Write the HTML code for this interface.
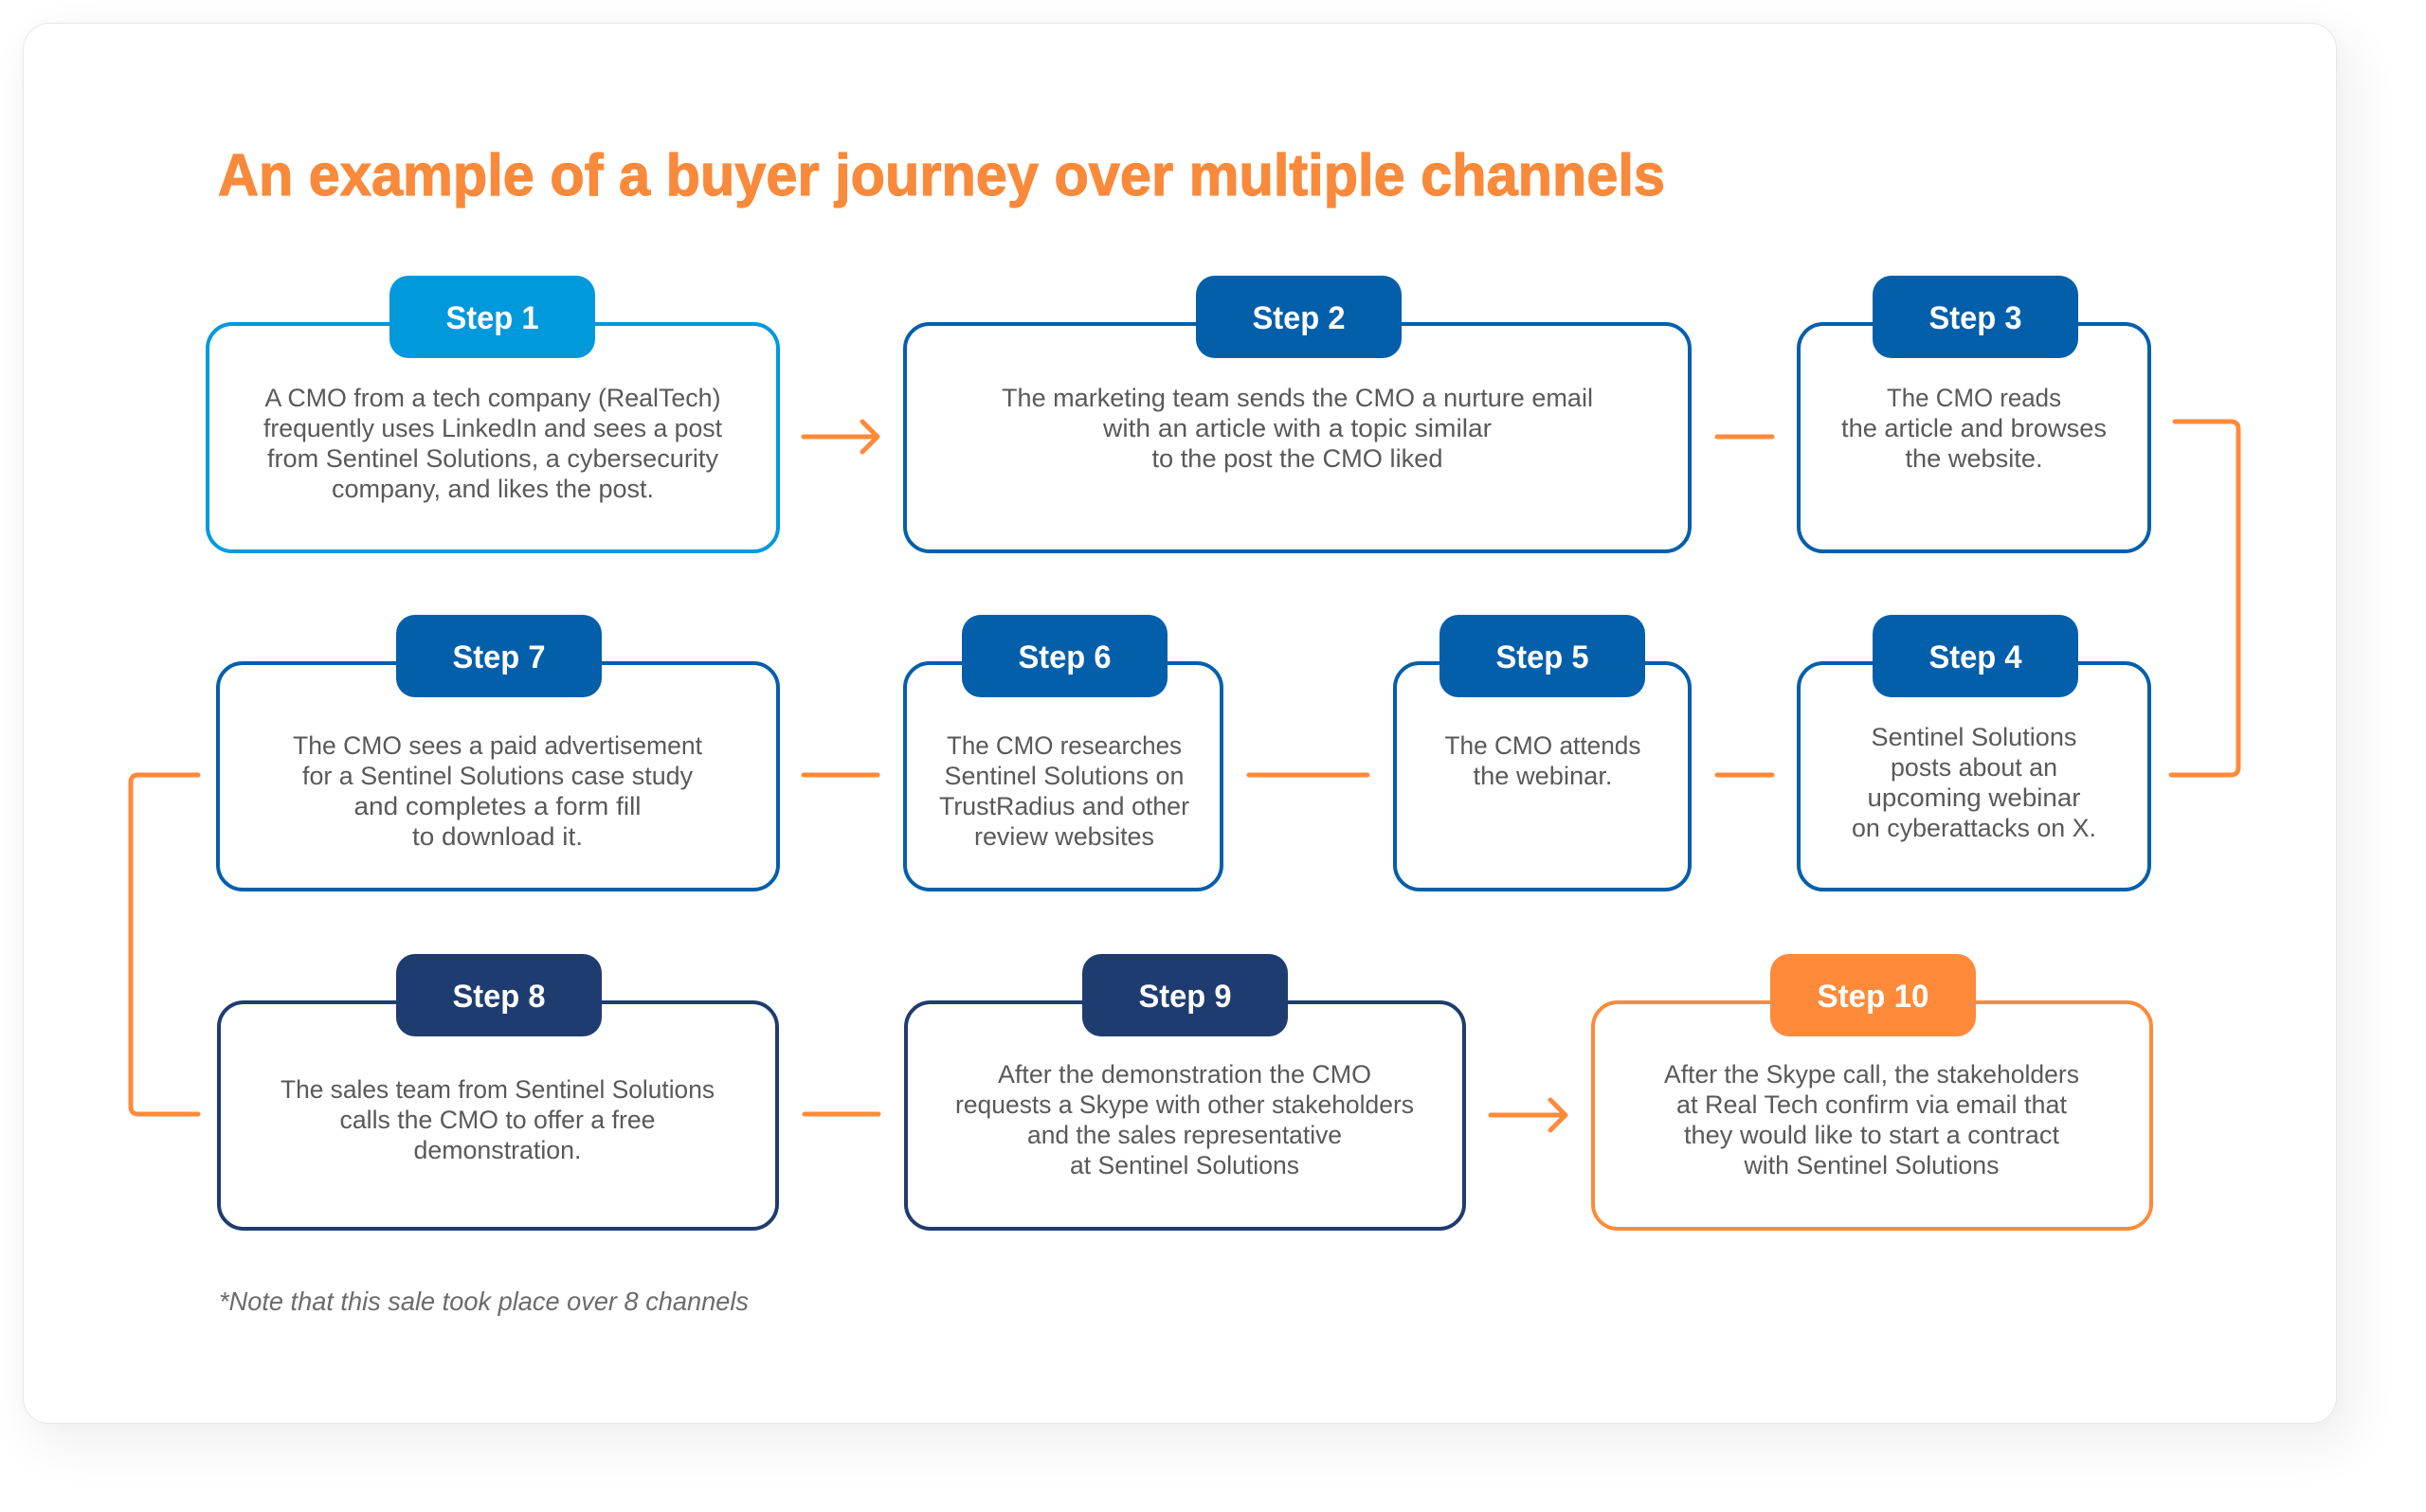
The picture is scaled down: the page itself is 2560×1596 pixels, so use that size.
<!DOCTYPE html>
<html>
<head>
<meta charset="utf-8">
<style>
  html, body { margin: 0; padding: 0; background: #ffffff; }
  body { width: 2560px; height: 1596px; position: relative; overflow: hidden; }
  .card {
    position: absolute; left: 24px; top: 24px; width: 2440px; height: 1477px;
    background: #ffffff; border: 1px solid #e6e6e6; border-radius: 28px;
    box-shadow: 14px 20px 50px 6px rgba(0,0,0,0.06), 0 0 14px rgba(0,0,0,0.025);
  }
  svg { position: absolute; left: 0; top: 0; }
  .body { font-family: "Liberation Sans", sans-serif; font-size: 27px; fill: #58595b; }
  .step { font-family: "Liberation Sans", sans-serif; font-size: 34px; font-weight: bold; fill: #ffffff; }
</style>
</head>
<body>
<div class="card"></div>
<svg width="2560" height="1596" viewBox="0 0 2560 1596" xmlns="http://www.w3.org/2000/svg">
  <!-- Title -->
  <text x="230" y="206" font-family="Liberation Sans, sans-serif" font-weight="bold" font-size="62" fill="#f98a3b" stroke="#f98a3b" stroke-width="1.2" textLength="1527" lengthAdjust="spacingAndGlyphs">An example of a buyer journey over multiple channels</text>

  <!-- Connectors -->
  <g stroke="#ff8a3a" stroke-width="5" fill="none" stroke-linecap="round" stroke-linejoin="round">
    <line x1="848" y1="461" x2="925" y2="461"/>
    <polyline points="910,445 926,461 910,477"/>
    <line x1="1812" y1="461" x2="1870" y2="461"/>
    <path d="M2295,445 H2354 Q2362,445 2362,453 V810 Q2362,818 2354,818 H2291"/>
    <line x1="1812" y1="818" x2="1870" y2="818"/>
    <line x1="1318" y1="818" x2="1443" y2="818"/>
    <line x1="848" y1="818" x2="926" y2="818"/>
    <path d="M209,818 H146 Q138,818 138,826 V1168 Q138,1176 146,1176 H209"/>
    <line x1="849" y1="1176" x2="927" y2="1176"/>
    <line x1="1573" y1="1177" x2="1651" y2="1177"/>
    <polyline points="1636,1161 1652,1177 1636,1193"/>
  </g>

  <!-- Boxes -->
  <g fill="#ffffff" stroke-width="4">
    <rect x="219" y="342" width="602" height="240" rx="26" stroke="#0099dc"/>
    <rect x="955" y="342" width="828" height="240" rx="26" stroke="#045faa"/>
    <rect x="1898" y="342" width="370" height="240" rx="26" stroke="#045faa"/>
    <rect x="230" y="700" width="591" height="239" rx="26" stroke="#045faa"/>
    <rect x="955" y="700" width="334" height="239" rx="26" stroke="#045faa"/>
    <rect x="1472" y="700" width="311" height="239" rx="26" stroke="#045faa"/>
    <rect x="1898" y="700" width="370" height="239" rx="26" stroke="#045faa"/>
    <rect x="231" y="1058" width="589" height="239" rx="26" stroke="#1e3c70"/>
    <rect x="956" y="1058" width="589" height="239" rx="26" stroke="#1e3c70"/>
    <rect x="1681" y="1058" width="589" height="239" rx="26" stroke="#ff8a3a"/>
  </g>

  <!-- Tabs -->
  <g>
    <rect x="411" y="291" width="217" height="87" rx="20" fill="#0099dc"/>
    <rect x="1262" y="291" width="217" height="87" rx="20" fill="#045faa"/>
    <rect x="1976" y="291" width="217" height="87" rx="20" fill="#045faa"/>
    <rect x="418" y="649" width="217" height="87" rx="20" fill="#045faa"/>
    <rect x="1015" y="649" width="217" height="87" rx="20" fill="#045faa"/>
    <rect x="1519" y="649" width="217" height="87" rx="20" fill="#045faa"/>
    <rect x="1976" y="649" width="217" height="87" rx="20" fill="#045faa"/>
    <rect x="418" y="1007" width="217" height="87" rx="20" fill="#1e3c70"/>
    <rect x="1142" y="1007" width="217" height="87" rx="20" fill="#1e3c70"/>
    <rect x="1868" y="1007" width="217" height="87" rx="20" fill="#ff8a3a"/>
  </g>

  <!-- Step labels -->
  <g class="step" text-anchor="middle">
    <text x="519.5" y="347" textLength="98" lengthAdjust="spacingAndGlyphs">Step 1</text>
    <text x="1370.5" y="347" textLength="98" lengthAdjust="spacingAndGlyphs">Step 2</text>
    <text x="2084.5" y="347" textLength="98" lengthAdjust="spacingAndGlyphs">Step 3</text>
    <text x="526.5" y="705" textLength="98" lengthAdjust="spacingAndGlyphs">Step 7</text>
    <text x="1123.5" y="705" textLength="98" lengthAdjust="spacingAndGlyphs">Step 6</text>
    <text x="1627.5" y="705" textLength="98" lengthAdjust="spacingAndGlyphs">Step 5</text>
    <text x="2084.5" y="705" textLength="98" lengthAdjust="spacingAndGlyphs">Step 4</text>
    <text x="526.5" y="1063" textLength="98" lengthAdjust="spacingAndGlyphs">Step 8</text>
    <text x="1250.5" y="1063" textLength="98" lengthAdjust="spacingAndGlyphs">Step 9</text>
    <text x="1976.5" y="1063" textLength="118" lengthAdjust="spacingAndGlyphs">Step 10</text>
  </g>

  <!-- Body text -->
  <g class="body" text-anchor="middle">
    <text x="520" y="429" textLength="481" lengthAdjust="spacingAndGlyphs">A CMO from a tech company (RealTech)</text>
    <text x="520" y="461" textLength="484" lengthAdjust="spacingAndGlyphs">frequently uses LinkedIn and sees a post</text>
    <text x="520" y="493" textLength="476" lengthAdjust="spacingAndGlyphs">from Sentinel Solutions, a cybersecurity</text>
    <text x="520" y="525" textLength="340" lengthAdjust="spacingAndGlyphs">company, and likes the post.</text>

    <text x="1369" y="429" textLength="624" lengthAdjust="spacingAndGlyphs">The marketing team sends the CMO a nurture email</text>
    <text x="1369" y="461" textLength="410" lengthAdjust="spacingAndGlyphs">with an article with a topic similar</text>
    <text x="1369" y="493" textLength="307" lengthAdjust="spacingAndGlyphs">to the post the CMO liked</text>

    <text x="2083" y="429" textLength="184" lengthAdjust="spacingAndGlyphs">The CMO reads</text>
    <text x="2083" y="461" textLength="280" lengthAdjust="spacingAndGlyphs">the article and browses</text>
    <text x="2083" y="493" textLength="145" lengthAdjust="spacingAndGlyphs">the website.</text>

    <text x="525" y="796" textLength="432" lengthAdjust="spacingAndGlyphs">The CMO sees a paid advertisement</text>
    <text x="525" y="828" textLength="412" lengthAdjust="spacingAndGlyphs">for a Sentinel Solutions case study</text>
    <text x="525" y="860" textLength="303" lengthAdjust="spacingAndGlyphs">and completes a form fill</text>
    <text x="525" y="892" textLength="180" lengthAdjust="spacingAndGlyphs">to download it.</text>

    <text x="1123" y="796" textLength="248" lengthAdjust="spacingAndGlyphs">The CMO researches</text>
    <text x="1123" y="828" textLength="253" lengthAdjust="spacingAndGlyphs">Sentinel Solutions on</text>
    <text x="1123" y="860" textLength="264" lengthAdjust="spacingAndGlyphs">TrustRadius and other</text>
    <text x="1123" y="892" textLength="190" lengthAdjust="spacingAndGlyphs">review websites</text>

    <text x="1628" y="796" textLength="207" lengthAdjust="spacingAndGlyphs">The CMO attends</text>
    <text x="1628" y="828" textLength="147" lengthAdjust="spacingAndGlyphs">the webinar.</text>

    <text x="2083" y="787" textLength="217" lengthAdjust="spacingAndGlyphs">Sentinel Solutions</text>
    <text x="2083" y="819" textLength="176" lengthAdjust="spacingAndGlyphs">posts about an</text>
    <text x="2083" y="851" textLength="225" lengthAdjust="spacingAndGlyphs">upcoming webinar</text>
    <text x="2083" y="883" textLength="258" lengthAdjust="spacingAndGlyphs">on cyberattacks on X.</text>

    <text x="525" y="1159" textLength="458" lengthAdjust="spacingAndGlyphs">The sales team from Sentinel Solutions</text>
    <text x="525" y="1191" textLength="333" lengthAdjust="spacingAndGlyphs">calls the CMO to offer a free</text>
    <text x="525" y="1223" textLength="177" lengthAdjust="spacingAndGlyphs">demonstration.</text>

    <text x="1250" y="1143" textLength="394" lengthAdjust="spacingAndGlyphs">After the demonstration the CMO</text>
    <text x="1250" y="1175" textLength="484" lengthAdjust="spacingAndGlyphs">requests a Skype with other stakeholders</text>
    <text x="1250" y="1207" textLength="332" lengthAdjust="spacingAndGlyphs">and the sales representative</text>
    <text x="1250" y="1239" textLength="242" lengthAdjust="spacingAndGlyphs">at Sentinel Solutions</text>

    <text x="1975" y="1143" textLength="438" lengthAdjust="spacingAndGlyphs">After the Skype call, the stakeholders</text>
    <text x="1975" y="1175" textLength="412" lengthAdjust="spacingAndGlyphs">at Real Tech confirm via email that</text>
    <text x="1975" y="1207" textLength="396" lengthAdjust="spacingAndGlyphs">they would like to start a contract</text>
    <text x="1975" y="1239" textLength="269" lengthAdjust="spacingAndGlyphs">with Sentinel Solutions</text>
  </g>

  <!-- Note -->
  <text x="231" y="1383" font-family="Liberation Sans, sans-serif" font-style="italic" font-size="28" fill="#6b6b6b" textLength="559" lengthAdjust="spacingAndGlyphs">*Note that this sale took place over 8 channels</text>
</svg>
</body>
</html>
